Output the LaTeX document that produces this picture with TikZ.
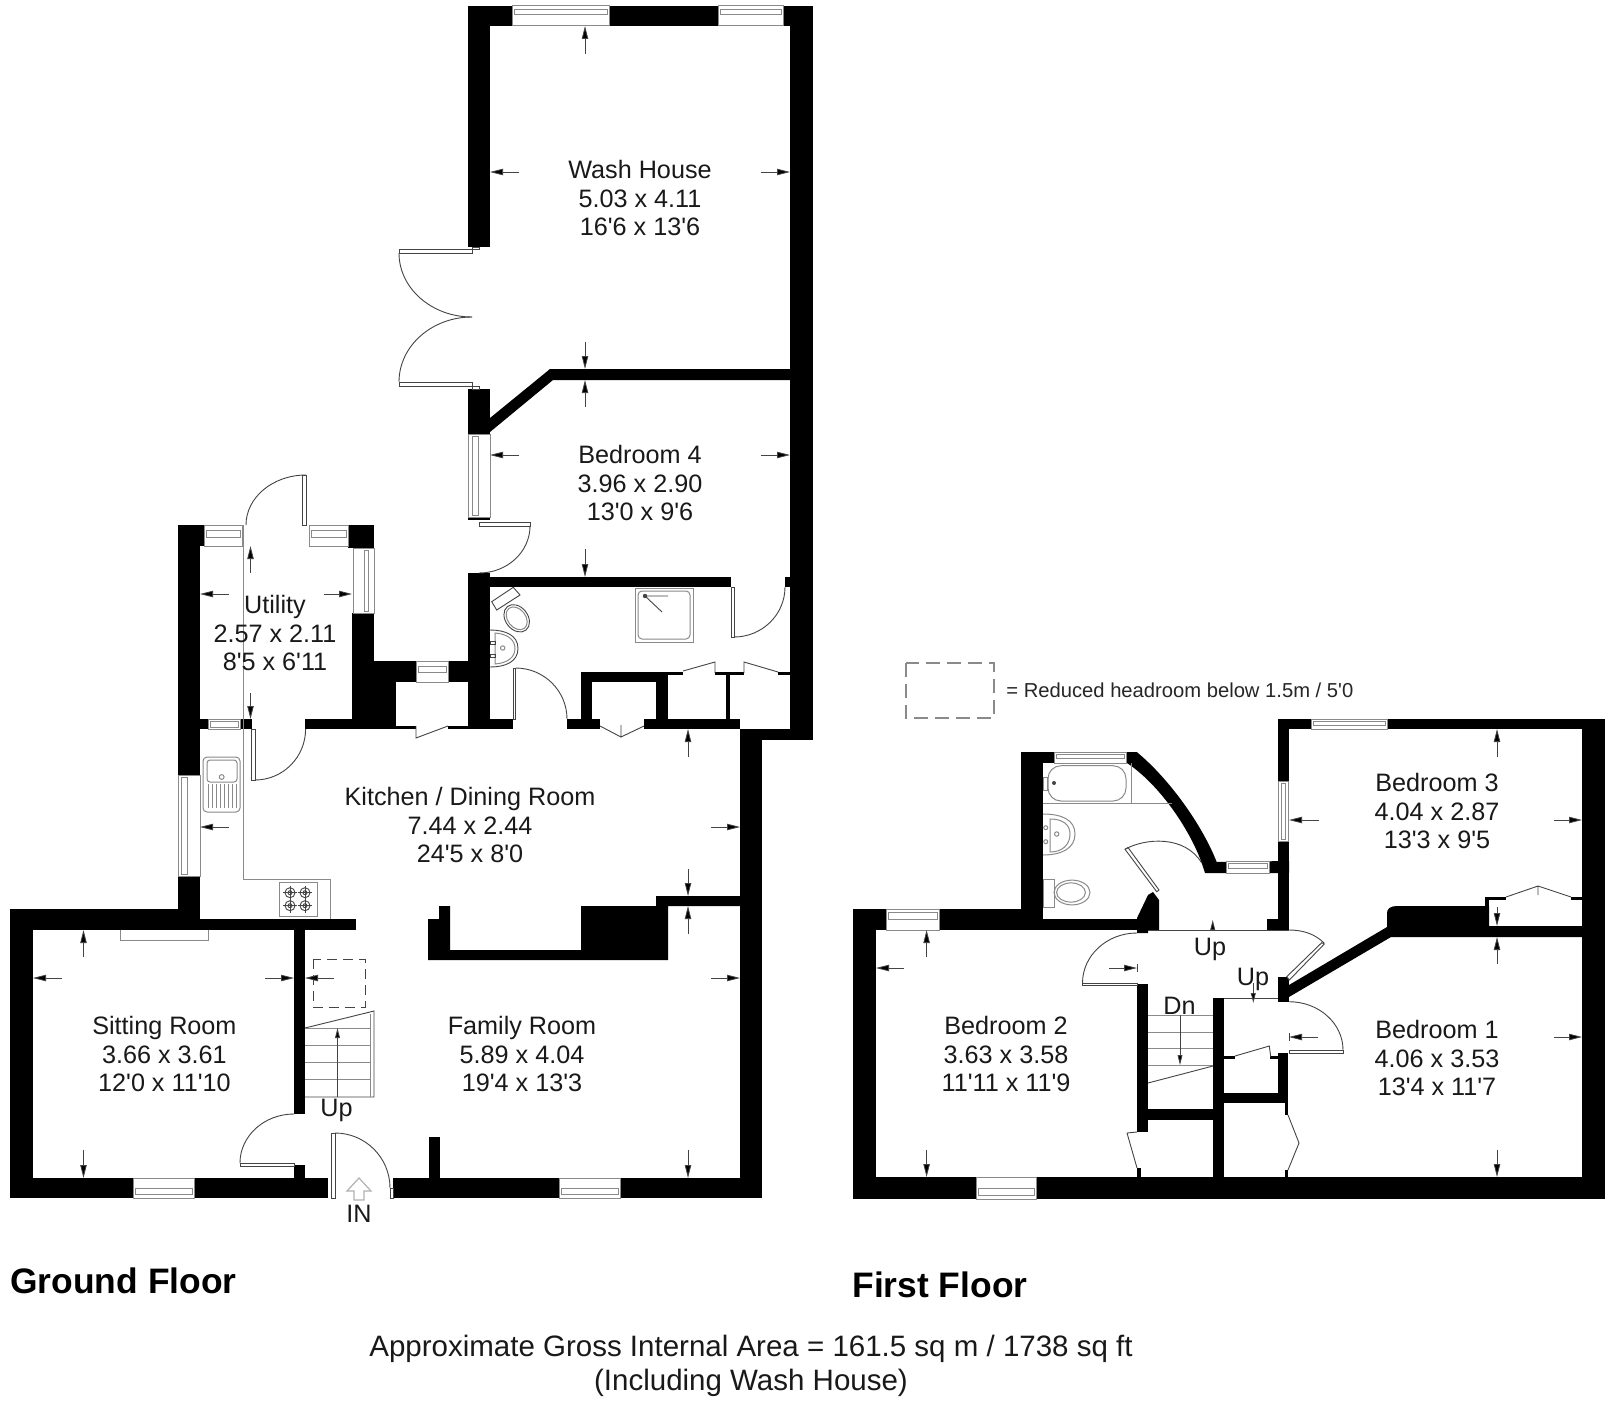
\documentclass[tikz,border=0pt]{standalone}
\usepackage{fontspec}
\setmainfont[Ligatures=TeXOff]{Liberation Sans}
\usetikzlibrary{calc,arrows.meta}
\definecolor{ln}{HTML}{444444}
\definecolor{wn}{HTML}{8A8A8A}
\tikzset{
 thinln/.style={draw=ln,line width=0.45pt},
 grayln/.style={draw=wn,line width=0.5pt},
 dimarrow/.style={draw=ln,line width=0.4pt,-{Stealth[length=6.5pt,width=3.2pt,inset=0pt,fill=black]}},
 tinyarrow/.style={draw=ln,line width=0.4pt,-{Stealth[length=5pt,width=2.4pt,inset=0pt,fill=black]}},
 roomlabel/.style={align=center,inner sep=0pt,font=\fontsize{12.6}{14.2}\selectfont,text=black!90},
 smalllabel/.style={inner sep=0pt,font=\fontsize{12.6}{14.2}\selectfont,text=black!90},
 titlelabel/.style={inner sep=0pt,font=\fontsize{17.7}{20}\selectfont\bfseries},
 footlabel/.style={align=center,inner sep=0pt,font=\fontsize{14.75}{17.2}\selectfont,text=black!90},
}
\newcommand\W[4]{\fill[black] (#1,#2) rectangle (#3,#4);}
\newcommand\winH[6]{\fill[white] (#1,#2) rectangle (#3,#4);\draw[grayln] (#1,#2) rectangle (#3,#4);\draw[grayln] (#1+2,#5) rectangle (#3-2,#6);}
\newcommand\winV[6]{\fill[white] (#1,#2) rectangle (#3,#4);\draw[grayln] (#1,#2) rectangle (#3,#4);\draw[grayln] (#5,#2+2) rectangle (#6,#4-2);}
\newcommand\qarc[3]{\draw[thinln] (#1) .. controls ($(#1)+0.5523*(#2)-0.5523*(#3)$) and ($(#2)+0.5523*(#1)-0.5523*(#3)$) .. (#2);}
\newcommand\dimA[4]{\draw[dimarrow] (#1,#2) -- (#3,#4);}
\newcommand\leaf[4]{\fill[white] (#1,#2) rectangle (#3,#4);\draw[thinln] (#1,#2) rectangle (#3,#4);}
\begin{document}
\begin{tikzpicture}[x=0.5pt,y=-0.5pt]
\fill[white] (0,0) rectangle (1616,1402);
\useasboundingbox (0,0) rectangle (1616,1402);
%%% GROUND FLOOR WALLS
\W{10}{909}{33}{1198}
\W{10}{909}{200}{930}
\W{200}{919}{356}{930}
\W{294}{930}{305}{1114}
\W{294}{1165}{305}{1178}
\W{10}{1178}{328}{1198}
\W{393}{1178}{762}{1198}
\W{740}{729}{762}{1198}
\W{740}{729}{813}{740}
\W{790}{6}{813}{740}
\W{468}{6}{813}{26}
\W{468}{6}{490}{247}
\W{468}{389}{490}{434}
\fill[black] (790,369) -- (550,369) -- (490,418) -- (490,432) -- (553,380) -- (790,380) -- cycle;
\W{178}{525}{200}{909}
\W{178}{525}{204}{546}
\W{348}{525}{374}{548}
\W{309}{525}{348}{546}
\W{352}{613}{374}{729}
\W{352}{661}{396}{729}
\W{396}{661}{468}{682}
\W{468}{573}{490}{729}
\W{468}{577}{731}{587}
\W{785}{577}{790}{587}
\W{178}{719}{208}{729}
\W{240}{719}{252}{729}
\W{305}{719}{396}{729}
\W{396}{726}{416}{729}
\W{448}{726}{513}{729}
\W{490}{719}{513}{729}
\W{567}{719}{600}{729}
\W{644}{719}{740}{729}
\W{581}{672}{668}{682}
\W{581}{672}{592}{729}
\W{656}{672}{668}{729}
\W{726}{675}{730}{719}
\W{668}{672}{683}{675}
\W{715}{672}{744}{675}
\W{778}{672}{790}{675}
\W{429}{1137}{440}{1178}
\W{468}{517}{490}{520}
% chimney
\fill[black] (428,919) -- (439,919) -- (439,906) -- (450,906) -- (450,950) -- (581,950) -- (581,906) -- (656,906) -- (656,896) -- (740,896) -- (740,906) -- (668,906) -- (668,960) -- (428,960) -- cycle;
%%% GROUND WINDOWS
\winH{512}{6}{609}{26}{10}{15}
\winH{718}{6}{783}{26}{10}{15}
\winV{468}{434}{490}{517}{472}{478}
\winH{204}{525}{242}{546}{530}{537}
\winH{309}{525}{348}{546}{530}{537}
\winV{353}{548}{374}{613}{364}{368}
\winH{416}{661}{448}{682}{666}{672}
\winH{208}{719}{240}{729}{721}{727}
\winV{178}{775}{200}{876}{181}{187}
\winH{133}{1178}{194}{1198}{1188}{1194}
\winH{559}{1178}{620}{1198}{1188}{1194}
%%% GROUND DOORS
\leaf{399}{249.5}{472}{253}
\draw[thinln] (472,247) rectangle (479,249.5);
\qarc{399,253}{472,317}{472,253}
\qarc{472,317}{399,382}{472,382}
\leaf{399}{382}{472}{386}
\draw[thinln] (472,386) rectangle (479,389);
\leaf{479}{522}{530}{526}
\qarc{530,526}{479,573}{479,526}
\leaf{302.5}{475}{306}{525}
\qarc{306,475}{246,525}{306,525}
\leaf{251}{729}{255}{780}
\qarc{255,780}{305.6,729}{255,729}
\leaf{513}{668}{515.5}{719}
\qarc{515.5,668}{567,719}{515.5,719}
\leaf{731.5}{587}{734.5}{637}
\qarc{734,637}{785,587}{734,587}
\draw[thinln] (416,726) -- (416,738) -- (448,726);
\draw[thinln] (600,726) -- (621,737) -- (644,726) (621,725) -- (621,737);
\draw[thinln] (683,671) -- (715,662) -- (715,673) (744,673) -- (744,662) -- (778,672);
\qarc{294,1114}{240,1163}{294,1163}
\leaf{240}{1163}{294}{1166}
\leaf{331}{1133}{335}{1198}
\qarc{335,1133}{390,1188}{335,1188}
\draw[thinln] (390,1188) rectangle (393,1198);
%%% FIXTURES GROUND
\draw[grayln] (243,525) -- (243,879) -- (330,879) -- (330,919);
\fill[white] (203,757) rectangle (240,812);
\draw[grayln,rounded corners=2pt] (203,757) rectangle (240,812);
\draw[grayln,rounded corners=1.5pt] (207,760) rectangle (237,782);
\draw[grayln] (221.7,777) circle (1.2pt);
\foreach \x in {208,212,...,236}{\draw[grayln] (\x,784) -- (\x,808);}
\draw[grayln] (279,882) rectangle (317,916);
\foreach \x/\y in {290/892.7,305/892.7,290/905.7,305/905.7}{
  \draw[thinln] (\x,\y) circle (2.5pt);\draw[thinln] (\x,\y) circle (1pt);
  \draw[thinln] (\x-7,\y) -- (\x+7,\y) (\x,\y-7) -- (\x,\y+7);}
\draw[grayln] (120,930) -- (120,940) -- (208,940) -- (208,930);
\draw[thinln] (305,1028) -- (374,1011) -- (374,1097) -- (305,1097);
\draw[grayln] (370,1014) -- (370,1097);
\foreach \y in {1028,1045,1062,1079}{\draw[grayln] (305,\y) -- (370,\y);}
\draw[tinyarrow] (337.5,1097) -- (337.5,1028);
\draw[draw=ln,line width=0.5pt,dash pattern=on 5pt off 3pt] (313,959) rectangle (365,1007);
% shower
\draw[grayln] (635,588) rectangle (693,642);
\draw[grayln,rounded corners=2pt] (638,591) rectangle (690,639);
\fill[ln] (645,596) circle (1.1pt);
\draw[thinln] (645,596) -- (668,596) (645,596) -- (662,612);
% wc & basin (ground)
\draw[thinln,fill=white] (491.7,601.7) -- (513.3,587.3) -- (520,595) -- (496.7,610) -- cycle;
\draw[thinln,fill=white] (516.7,618.3) ellipse [x radius=7.5pt,y radius=5.6pt,rotate=-52];
\draw[grayln] (516.7,618.3) ellipse [x radius=6.3pt,y radius=4.5pt,rotate=-52];
\draw[thinln] (490,630) .. controls (505,630) and (518,635) .. (518,648.5) .. controls (518,662) and (505,667) .. (490,667);
\draw[grayln] (495,633) .. controls (508,634) and (515,640) .. (515,648.5) .. controls (515,657) and (508,663) .. (495,664) -- cycle;
\draw[grayln] (502.7,648) circle (1.1pt);
\draw[thinln] (490,641) rectangle (495,644) (490,654) rectangle (495,657);
% IN arrow
\draw[draw=black!30,line width=0.6pt] (359,1178) -- (347,1191) -- (354,1191) -- (354,1200) -- (364,1200) -- (364,1191) -- (371,1191) -- cycle;
%%% FIRST FLOOR WALLS
\W{853}{909}{876}{1199}
\W{853}{909}{1043}{930}
\W{853}{1177}{1605}{1199}
\W{1582}{719}{1605}{1199}
\W{1278}{719}{1605}{729}
\W{1278}{719}{1289}{931}
\W{1020.5}{752}{1043}{930}
\W{1020.5}{752}{1137}{763}
\W{1043}{919}{1140}{930}
\fill[black] (1136.7,752) .. controls (1165,775) and (1200,820) .. (1216.7,862) -- (1289,861) -- (1289,873) -- (1205,873) -- (1201.7,863) .. controls (1190,830) and (1160,785) .. (1127,763) -- cycle;
\fill[black] (1137,933) -- (1137,918) -- (1148,895) -- (1153,892) -- (1159,900) -- (1159,930) -- (1148,930) -- (1148,933) -- cycle;
\W{1267}{919}{1289}{931}
\W{1137}{984}{1148}{1132}
\W{1137}{1168}{1141}{1177}
\W{1213}{998}{1224}{1177}
\W{1148}{1109}{1213}{1120}
\W{1224}{1093}{1288}{1103}
\W{1278}{1053}{1288}{1103}
\W{1285}{1103}{1288}{1115}
\W{1285}{1170}{1288}{1177}
\W{1278}{977}{1289}{1002}
\W{1224}{1056}{1235}{1059}
\W{1270}{1056}{1278}{1059}
\fill[black] (1387,927) -- (1289,985) -- (1289,997) -- (1391,937) -- (1582,937) -- (1582,926) -- (1489,926) -- (1489,906) -- (1397,906) .. controls (1390,906) and (1387,909) .. (1387,913) -- cycle;
\W{1485}{897}{1489}{906}
\W{1485}{897}{1506}{900}
\W{1571}{897}{1582}{900}
%%% FIRST WINDOWS
\winH{1311}{719}{1387}{729}{721}{725}
\winV{1278}{781}{1288}{841}{1281}{1285}
\winH{1054}{752}{1126}{763}{754}{758}
\winH{1226}{861}{1269.5}{873}{863}{868}
\winH{886}{909}{939}{930}{912}{919}
\winH{976}{1177}{1036.5}{1199}{1188}{1195}
%%% FIRST DOORS
\draw[thinln,fill=white] (1156.7,891.7) -- (1125,849.3) -- (1128,847.5) -- (1159,890) -- cycle;
\draw[thinln] (1125,849.3) .. controls (1145,838) and (1185,835) .. (1201.7,863);
\qarc{1137,933}{1082.5,983}{1137,983}
\leaf{1082.5}{983}{1137}{985}
\draw[thinln] (1127,1133) -- (1137,1168) (1127,1133) -- (1137,1132);
\draw[thinln] (1148,930) -- (1289,930);
\draw[thinln] (1224,998) -- (1278,998);
\draw[thinln] (1288,1115) -- (1299,1143) -- (1288,1170);
\draw[thinln] (1235,1056) -- (1269.3,1046) -- (1270.7,1056.7);
\qarc{1289,1001.7}{1343,1050}{1289,1050}
\leaf{1289}{1050}{1343}{1053}
% door at the head of the landing
\draw[thinln] (1289,930) .. controls (1303,930) and (1315,934) .. (1324,943);
\draw[thinln,fill=white] (1286.7,976.7) -- (1321.7,942.7) -- (1324.3,944) -- (1289.3,980) -- cycle;
\draw[thinln] (1506,897) -- (1538,886) -- (1571,897) (1538,886) -- (1538,895);
%%% FIRST FIXTURES
\draw[grayln] (1043,803) -- (1171.7,803) (1131.7,763) -- (1131.7,803);
\draw[grayln,rounded corners=6.5pt] (1048,765.7) rectangle (1126,801);
\draw[grayln] (1043,777.5) rectangle (1047,790);
\fill[ln] (1054,783) circle (1pt);
\draw[grayln] (1043,814) .. controls (1062,814) and (1075,820) .. (1075,834) .. controls (1075,848) and (1062,855) .. (1043,855);
\draw[grayln] (1050,819) .. controls (1062,819) and (1070,824) .. (1070,834) .. controls (1070,845) and (1062,852) .. (1050,852) -- cycle;
\draw[grayln] (1056.7,834) circle (1.1pt);
\draw[grayln] (1045.7,827.7) circle (1pt) (1045.7,841.7) circle (1pt);
\draw[grayln] (1043,879) rectangle (1054,907);
\draw[grayln] (1072,892.5) ellipse [x radius=9pt,y radius=6.2pt];
\draw[grayln] (1071,892.5) ellipse [x radius=7.2pt,y radius=4.8pt];
\foreach \y in {1015,1032,1048,1065}{\draw[grayln] (1148,\y) -- (1213,\y);}
\draw[thinln] (1148,1083) -- (1213,1066);
\draw[tinyarrow] (1180,1015) -- (1180,1065);
%%% DIMENSION ARROWS
\dimA{585}{54}{585}{26}\dimA{519}{172}{490}{172}\dimA{761}{172}{790}{172}\dimA{585}{342}{585}{369}
\dimA{585}{407}{585}{380}\dimA{519}{455}{490}{455}\dimA{761}{455}{790}{455}\dimA{585}{549}{585}{577}
\dimA{250.5}{573}{250.5}{546}\dimA{250.5}{693}{250.5}{719}\dimA{229}{594}{200}{594}\dimA{323.6}{594}{352}{594}
\dimA{688}{757}{688}{729}\dimA{688}{869}{688}{896}\dimA{229}{827}{200}{827}\dimA{711}{827}{740}{827}
\dimA{83.5}{957}{83.5}{930}\dimA{83.5}{1150}{83.5}{1178}\dimA{62}{978}{33}{978}\dimA{265}{978}{294}{978}
\dimA{688}{934}{688}{906}\dimA{688}{1150}{688}{1178}\dimA{334}{978}{305}{978}\dimA{711}{978}{740}{978}
\dimA{1497}{757}{1497}{729}\dimA{1497}{907}{1497}{926}\dimA{1318.6}{820}{1289}{820}\dimA{1554}{820}{1582}{820}
\dimA{1497}{964}{1497}{937}\dimA{1497}{1150}{1497}{1177}\dimA{1318}{1037}{1289}{1037}\dimA{1554}{1037}{1582}{1037}
\dimA{926.6}{957}{926.6}{930}\dimA{926.6}{1150}{926.6}{1177}\dimA{904}{968}{876}{968}\dimA{1109}{968}{1137}{968}
\draw[thinln] (1289,1033) -- (1289,1041) (1137,964) -- (1137,972);
\draw[tinyarrow] (1212.7,930) -- (1212.7,920);
\draw[tinyarrow] (1253.3,983) -- (1253.3,1003);
%%% LEGEND
\draw[draw=wn,line width=0.6pt,dash pattern=on 7pt off 3.5pt] (906,663) rectangle (994,718);
\node[anchor=west,inner sep=0pt,font=\fontsize{10.1}{12}\selectfont,text=black!85] (legend) at (1006,690) {= Reduced headroom below 1.5m / 5'0};
%%% LABELS
\node[roomlabel] (wash) at (640,198) {Wash House\\5.03 x 4.11\\16'6 x 13'6};
\node[roomlabel] (bed4) at (640,483) {Bedroom 4\\3.96 x 2.90\\13'0 x 9'6};
\node[roomlabel] (util) at (275,633) {Utility\\2.57 x 2.11\\8'5 x 6'11};
\node[roomlabel] (kit) at (470,825) {Kitchen / Dining Room\\7.44 x 2.44\\24'5 x 8'0};
\node[roomlabel] (sit) at (164.4,1054) {Sitting Room\\3.66 x 3.61\\12'0 x 11'10};
\node[roomlabel] (fam) at (522,1054) {Family Room\\5.89 x 4.04\\19'4 x 13'3};
\node[roomlabel] (bed3) at (1437,811) {Bedroom 3\\4.04 x 2.87\\13'3 x 9'5};
\node[roomlabel] (bed2) at (1006,1054) {Bedroom 2\\3.63 x 3.58\\11'11 x 11'9};
\node[roomlabel] (bed1) at (1437,1058) {Bedroom 1\\4.06 x 3.53\\13'4 x 11'7};
\node[smalllabel] (up0) at (336.6,1110) {Up};
\node[smalllabel] (inn) at (359,1214) {IN};
\node[smalllabel] (up1) at (1210,949) {Up};
\node[smalllabel] (up2) at (1253,979) {Up};
\node[smalllabel] (dn) at (1179.5,1006) {Dn};
\node[titlelabel,anchor=west] (gf) at (10,1281) {Ground Floor};
\node[titlelabel,anchor=west] (ff) at (852,1285) {First Floor};
\node[footlabel] (area) at (751,1366) {Approximate Gross Internal Area = 161.5 sq m / 1738 sq ft\\(Including Wash House)};
\end{tikzpicture}
\end{document}
